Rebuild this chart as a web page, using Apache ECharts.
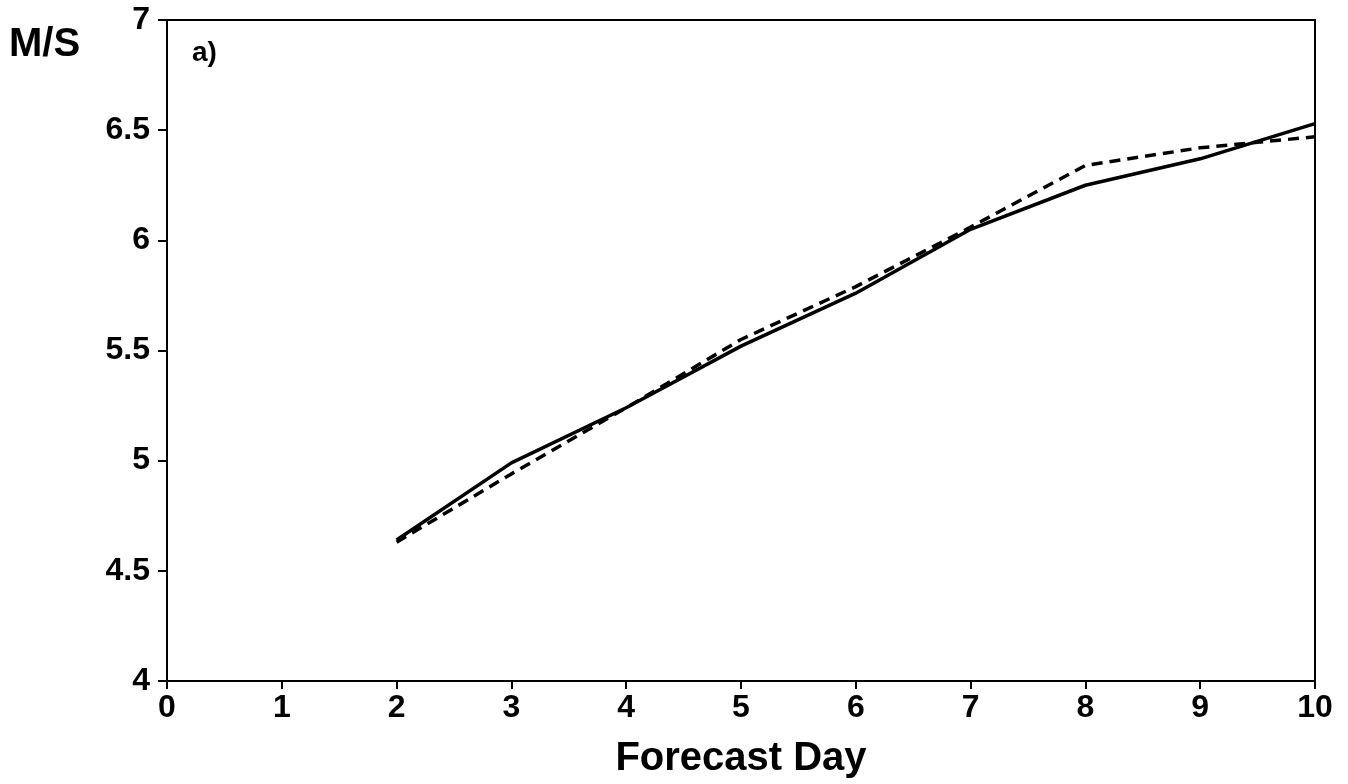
<!DOCTYPE html>
<html>
<head>
<meta charset="utf-8">
<script src="https://cdn.jsdelivr.net/npm/echarts@6/dist/echarts.min.js"></script>
<style>
    html, body { margin: 0; padding: 0; background: #fff; }
    #chart { width: 1348px; height: 784px; }
</style>
</head>
<body>
<div id="chart"></div>
<script>
    // forecast days and the two curves (m/s)
    var days = [2, 3, 4, 5, 6, 7, 8, 9, 10];
    var solidValues = [4.64, 4.99, 5.24, 5.52, 5.76, 6.05, 6.25, 6.37, 6.53];
    var dashedValues = [4.63, 4.94, 5.24, 5.55, 5.79, 6.06, 6.34, 6.42, 6.47];
    var yTicks = [4, 4.5, 5, 5.5, 6, 6.5, 7];

    var font = '"Liberation Sans", Arial, sans-serif';

    function pairs(xs, ys) {
        return xs.map(function (x, i) { return [x, ys[i]]; });
    }

    var chart = echarts.init(document.getElementById('chart'));
    var options = {
        animation: false,
        backgroundColor: '#fff',
        grid: {
            left: 167,
            right: 33,
            top: 20,
            bottom: 102,
            show: true,
            borderColor: '#000',
            borderWidth: 2
        },
        xAxis: {
            type: 'value',
            min: 0,
            max: 10,
            interval: 1,
            name: 'Forecast Day',
            nameLocation: 'middle',
            nameGap: 58,
            nameTextStyle: { fontFamily: font, fontWeight: 'bold', fontSize: 40, color: '#000' },
            axisLine: { show: true, lineStyle: { color: '#000', width: 2 } },
            axisTick: { show: true, length: 8, lineStyle: { color: '#000', width: 2 } },
            axisLabel: { margin: 11, fontFamily: font, fontWeight: 'bold', fontSize: 32, color: '#000' },
            splitLine: { show: false }
        },
        yAxis: {
            type: 'value',
            min: 4,
            max: 7,
            interval: 0.5,
            axisLine: { show: true, lineStyle: { color: '#000', width: 2 } },
            axisTick: { show: true, length: 9, lineStyle: { color: '#000', width: 2 } },
            axisLabel: {
                margin: 17,
                fontFamily: font, fontWeight: 'bold', fontSize: 32, color: '#000',
                formatter: function (v) {
                    return yTicks.indexOf(v) >= 0 ? String(v) : '';
                }
            },
            splitLine: { show: false }
        },
        graphic: [
            {
                type: 'text', left: 9, top: 25,
                style: { text: 'M/S', font: 'bold 40px ' + font, fill: '#000' }
            },
            {
                type: 'text', left: 192, top: 39,
                style: { text: 'a)', font: 'bold 28px ' + font, fill: '#000' }
            }
        ],
        series: [
            {
                name: 'solid',
                type: 'line',
                data: pairs(days, solidValues),
                showSymbol: false,
                lineStyle: { color: '#000', width: 3.5 }
            },
            {
                name: 'dashed',
                type: 'line',
                data: pairs(days, dashedValues),
                showSymbol: false,
                lineStyle: { color: '#000', width: 3.5, type: [11, 7] }
            }
        ]
    };
    chart.setOption(options);
</script>
</body>
</html>
